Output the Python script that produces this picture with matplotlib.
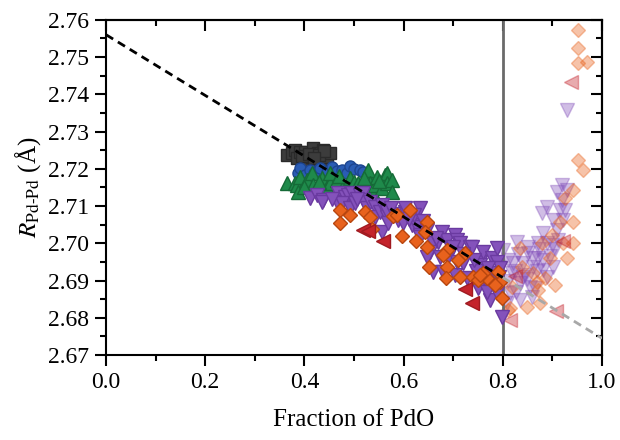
import matplotlib
matplotlib.use("Agg")
import matplotlib.pyplot as plt
from matplotlib.ticker import MultipleLocator, FormatStrFormatter

plt.rcParams['font.family'] = ['Liberation Serif', 'DejaVu Serif']
plt.rcParams['mathtext.fontset'] = 'stix'

# ---------------- data ----------------
black_x = [0.365, 0.375, 0.381, 0.385, 0.391, 0.401, 0.405, 0.415, 0.417, 0.425,
           0.427, 0.435, 0.437, 0.446, 0.452, 0.395, 0.410, 0.430, 0.440, 0.420]
black_y = [2.7237, 2.7243, 2.7251, 2.7229, 2.7245, 2.7245, 2.7218, 2.7232, 2.7256, 2.7216,
           2.7243, 2.7224, 2.7251, 2.7232, 2.7243, 2.7235, 2.7240, 2.7238, 2.7247, 2.7228]

blue_x = [0.387, 0.391, 0.401, 0.411, 0.420, 0.431, 0.446, 0.456, 0.466, 0.476,
          0.485, 0.492, 0.500, 0.512, 0.518]
blue_y = [2.7189, 2.7202, 2.7183, 2.7197, 2.7190, 2.7202, 2.7191, 2.7205, 2.7195, 2.7197,
          2.7190, 2.7208, 2.7200, 2.7197, 2.7192]

green_x = [0.365, 0.381, 0.385, 0.387, 0.391, 0.405, 0.415, 0.417, 0.435, 0.445,
           0.452, 0.452, 0.466, 0.478, 0.492, 0.500, 0.508, 0.512, 0.526, 0.528,
           0.532, 0.538, 0.542, 0.546, 0.556, 0.563, 0.567, 0.567, 0.577, 0.577,
           0.470, 0.430, 0.400, 0.520, 0.550]
green_y = [2.7162, 2.7162, 2.7157, 2.7138, 2.7178, 2.7170, 2.7189, 2.7157, 2.7176, 2.7150,
           2.7162, 2.7189, 2.7170, 2.7151, 2.7176, 2.7165, 2.7162, 2.7143, 2.7189, 2.7197,
           2.7162, 2.7135, 2.7157, 2.7178, 2.7148, 2.7183, 2.7189, 2.7162, 2.7170, 2.7138,
           2.7180, 2.7165, 2.7150, 2.7175, 2.7168]

purple_x = [0.411, 0.425, 0.438, 0.435, 0.468, 0.466, 0.482, 0.488, 0.496, 0.476,
            0.492, 0.502, 0.512, 0.518, 0.518, 0.526, 0.532, 0.542, 0.542, 0.552,
            0.556, 0.556, 0.567, 0.567, 0.569, 0.589, 0.603, 0.603, 0.599, 0.617,
            0.627, 0.633, 0.633, 0.633, 0.647, 0.659, 0.669, 0.653, 0.647, 0.659,
            0.673, 0.677, 0.679, 0.687, 0.690, 0.704, 0.704, 0.708, 0.708, 0.714,
            0.720, 0.728, 0.734, 0.738, 0.750, 0.754, 0.754, 0.760, 0.774, 0.774,
            0.778, 0.784, 0.788, 0.788, 0.788, 0.798, 0.795, 0.745, 0.765, 0.620,
            0.580, 0.640, 0.695, 0.720, 0.455, 0.505, 0.575, 0.610, 0.665, 0.700,
            0.742, 0.770, 0.792, 0.768]
purple_y = [2.7122, 2.7130, 2.7116, 2.7110, 2.7135, 2.7110, 2.7124, 2.7130, 2.7135, 2.7108,
            2.7095, 2.7108, 2.7130, 2.7135, 2.7116, 2.7095, 2.7110, 2.7097, 2.7070, 2.7084,
            2.7103, 2.7030, 2.7070, 2.7084, 2.7054, 2.7062, 2.7084, 2.7095, 2.7055, 2.7049,
            2.7044, 2.7095, 2.7022, 2.7017, 2.7036, 2.7000, 2.7003, 2.6977, 2.6963, 2.6923,
            2.6963, 2.7030, 2.6923, 2.7009, 2.6963, 2.7022, 2.6914, 2.7009, 2.6950, 2.7000,
            2.6947, 2.6906, 2.6990, 2.6990, 2.6880, 2.6950, 2.6941, 2.6977, 2.6896, 2.6847,
            2.6960, 2.6920, 2.6987, 2.6950, 2.6866, 2.6802, 2.6935, 2.6925, 2.6905, 2.7075,
            2.7080, 2.7060, 2.6985, 2.6970, 2.7120, 2.7120, 2.7095, 2.7065, 2.7015, 2.6990,
            2.6955, 2.6935, 2.6910, 2.6870]

orange_x = [0.472, 0.492, 0.472, 0.522, 0.532, 0.536, 0.579, 0.587, 0.613, 0.647,
            0.643, 0.597, 0.625, 0.647, 0.687, 0.679, 0.724, 0.710, 0.651, 0.687,
            0.685, 0.714, 0.740, 0.750, 0.768, 0.790, 0.794, 0.798, 0.760, 0.784,
            0.754]
orange_y = [2.7089, 2.7076, 2.7055, 2.7084, 2.7070, 2.7038, 2.7073, 2.7076, 2.7089, 2.7057,
            2.7030, 2.7019, 2.7006, 2.6990, 2.6982, 2.6968, 2.6974, 2.6955, 2.6936, 2.6936,
            2.6906, 2.6909, 2.6909, 2.6901, 2.6906, 2.6923, 2.6896, 2.6853, 2.6920, 2.6888,
            2.6915]

red_x = [0.518, 0.528, 0.558, 0.724, 0.738]
red_y = [2.7036, 2.7032, 2.7006, 2.6877, 2.6840]

purple_faded_x = [0.919, 0.909, 0.929, 0.919, 0.889, 0.915, 0.879, 0.901, 0.921, 0.881,
                  0.909, 0.871, 0.851, 0.899, 0.829, 0.800, 0.821, 0.841, 0.861, 0.881,
                  0.901, 0.811, 0.835, 0.855, 0.815, 0.835, 0.859, 0.889, 0.808, 0.929,
                  0.845, 0.870, 0.825, 0.890, 0.865, 0.810, 0.830, 0.850, 0.872, 0.895,
                  0.818, 0.840, 0.860, 0.880, 0.905, 0.826, 0.848, 0.868, 0.912, 0.925]
purple_faded_y = [2.7156, 2.7138, 2.7143, 2.7116, 2.7097, 2.7090, 2.7081, 2.7062, 2.7062, 2.7027,
                  2.7036, 2.7000, 2.6974, 2.6995, 2.7003, 2.6982, 2.6947, 2.6947, 2.6936, 2.6928,
                  2.6936, 2.6900, 2.6893, 2.6882, 2.6866, 2.6847, 2.6855, 2.6909, 2.6840, 2.7358,
                  2.6915, 2.6960, 2.6925, 2.7000, 2.6880, 2.6955, 2.6970, 2.6990, 2.6985, 2.6965,
                  2.6920, 2.6910, 2.6960, 2.6955, 2.6985, 2.6870, 2.6905, 2.6925, 2.7010, 2.7090]

orange_faded_x = [0.952, 0.952, 0.952, 0.970, 0.952, 0.962, 0.942, 0.925, 0.942, 0.915,
                  0.942, 0.921, 0.899, 0.879, 0.929, 0.895, 0.835, 0.861, 0.905, 0.871,
                  0.875, 0.849, 0.819, 0.815, 0.885, 0.839, 0.869, 0.810]
orange_faded_y = [2.7573, 2.7525, 2.7484, 2.7487, 2.7224, 2.7197, 2.7143, 2.7122, 2.7057, 2.7057,
                  2.7000, 2.7000, 2.7022, 2.7000, 2.6960, 2.6960, 2.6987, 2.6920, 2.6888, 2.6874,
                  2.6840, 2.6828, 2.6882, 2.6826, 2.6906, 2.6936, 2.6896, 2.6820]

red_faded_x = [0.937, 0.921, 0.825, 0.907, 0.815]
red_faded_y = [2.7433, 2.7006, 2.6912, 2.6818, 2.6794]

fit_intercept = 2.756
fit_slope = -0.0815
fit_x_solid = [0.0, 0.8]
fit_x_faded = [0.8, 1.0]
boundary_x = 0.8

x_ticks = [0.0, 0.2, 0.4, 0.6, 0.8, 1.0]
y_ticks = [2.67, 2.68, 2.69, 2.70, 2.71, 2.72, 2.73, 2.74, 2.75, 2.76]

# ---------------- figure ----------------
fig = plt.figure(figsize=(6.2, 4.4), dpi=100)
ax = fig.add_axes([0.171, 0.193, 0.800, 0.762])

c_black = '#3c3c3c'
c_blue = '#2a5cb4'
c_green = '#1f8a4b'
c_purple = '#8452bb'
c_orange = '#e8621d'
c_red = '#c4232b'

fa = 0.38
ax.plot(purple_faded_x, purple_faded_y, 'v', ms=9.5, color=c_purple, mec=c_purple, mew=1, alpha=fa, zorder=2)
ax.plot(orange_faded_x, orange_faded_y, 'D', ms=7, color=c_orange, mec=c_orange, mew=1, alpha=fa, zorder=2)
ax.plot(red_faded_x, red_faded_y, '<', ms=9.5, color=c_red, mec=c_red, mew=1, alpha=fa, zorder=2)

ax.axvline(boundary_x, color='#6a6a6a', lw=2, zorder=2.5)

ax.plot(black_x, black_y, 's', ms=8, color=c_black, mec='#2a2a2a', mew=1, zorder=3)
ax.plot(blue_x, blue_y, 'o', ms=8, color=c_blue, mec='#1d4590', mew=1, zorder=3)
ax.plot(green_x, green_y, '^', ms=9.5, color=c_green, mec='#156a37', mew=1, zorder=3)
ax.plot(purple_x, purple_y, 'v', ms=9.5, color=c_purple, mec='#6a3aa0', mew=1, zorder=3)
ax.plot(orange_x, orange_y, 'D', ms=7, color=c_orange, mec='#b8460f', mew=1, zorder=3)
ax.plot(red_x, red_y, '<', ms=9.5, color=c_red, mec='#a01a20', mew=1, zorder=3)

fy_solid = [fit_intercept + fit_slope * v for v in fit_x_solid]
fy_faded = [fit_intercept + fit_slope * v for v in fit_x_faded]
ax.plot(fit_x_solid, fy_solid, color='black', lw=2, ls=(0, (3, 2)), zorder=4)
ax.plot(fit_x_faded, fy_faded, color='#a8a8a8', lw=2, ls=(0, (3, 2)), zorder=4)

ax.set_xlim(0.0, 1.0)
ax.set_ylim(2.67, 2.76)
ax.set_xticks(x_ticks)
ax.set_yticks(y_ticks)
ax.xaxis.set_minor_locator(MultipleLocator(0.1))
ax.yaxis.set_minor_locator(MultipleLocator(0.005))
ax.xaxis.set_major_formatter(FormatStrFormatter('%.1f'))
ax.yaxis.set_major_formatter(FormatStrFormatter('%.2f'))

for s in ax.spines.values():
    s.set_linewidth(1.5)

ax.tick_params(which='major', direction='out', length=8, width=1.5, labelsize=17, pad=4)
ax.tick_params(which='minor', direction='out', length=4, width=1.5)

secx = ax.secondary_xaxis('top')
secx.set_xticks(x_ticks)
secx.xaxis.set_minor_locator(MultipleLocator(0.1))
secx.tick_params(which='major', direction='in', length=8, width=1.5, labeltop=False)
secx.tick_params(which='minor', direction='in', length=4, width=1.5)
secx.spines['top'].set_linewidth(1.5)

secy = ax.secondary_yaxis('right')
secy.set_yticks(y_ticks)
secy.yaxis.set_minor_locator(MultipleLocator(0.005))
secy.tick_params(which='major', direction='in', length=8, width=1.5, labelright=False)
secy.tick_params(which='minor', direction='in', length=4, width=1.5)
secy.spines['right'].set_linewidth(1.5)

ax.set_xlabel('Fraction of PdO', fontsize=18, labelpad=12)
ax.set_ylabel(r'$R_{\mathrm{Pd\text{-}Pd}}$ (Å)', fontsize=18, labelpad=4)

fig.savefig('out.png', dpi=100)
